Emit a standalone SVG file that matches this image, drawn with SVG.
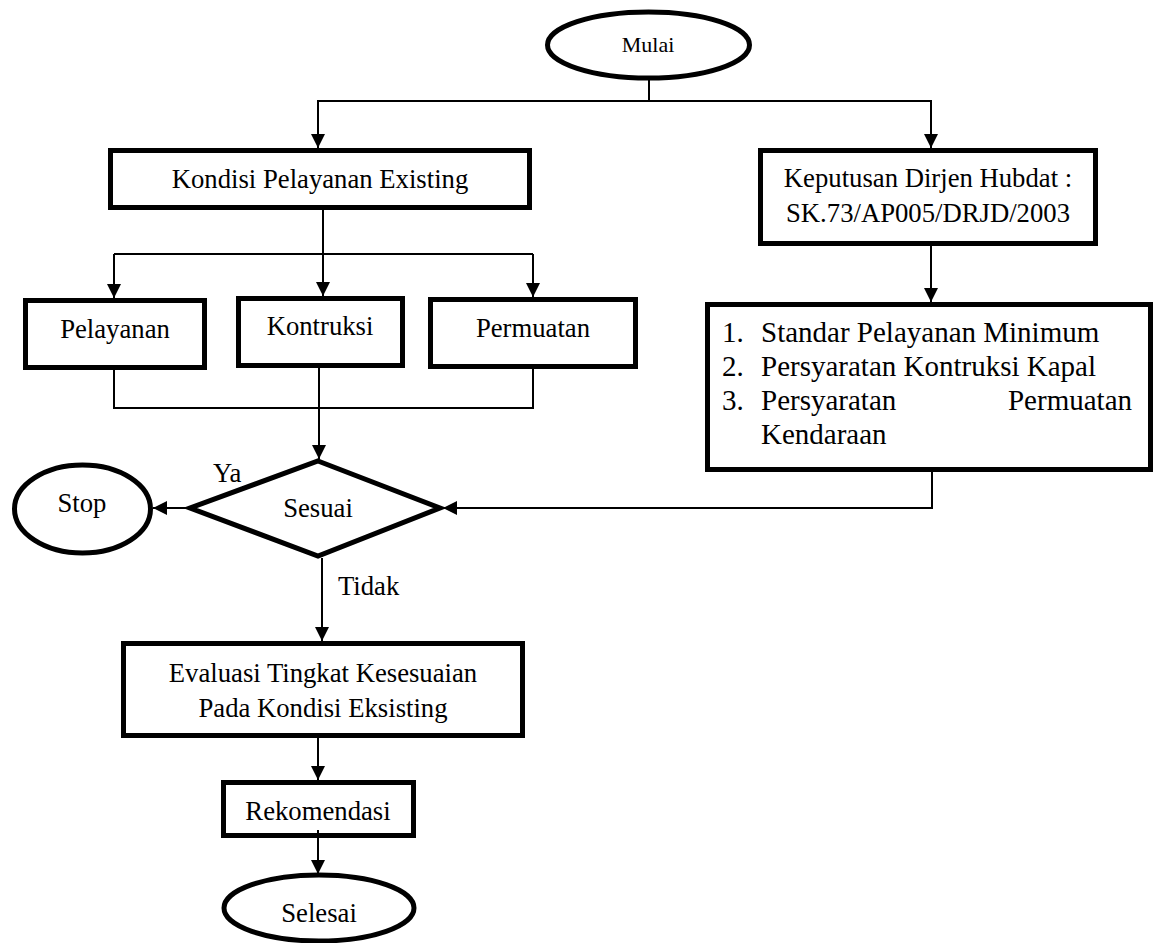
<svg xmlns="http://www.w3.org/2000/svg" width="1154" height="943" viewBox="0 0 1154 943">
<style>
.n{fill:#fff;stroke:#000;stroke-width:5}
.t{font-family:"Liberation Serif","Times New Roman",serif;font-size:26.7px;fill:#000}
.c{text-anchor:middle}
.big{font-size:29px}
.ln{fill:none;stroke:#000;stroke-width:2}
</style>
<defs>
<marker id="ar" markerUnits="userSpaceOnUse" markerWidth="14" markerHeight="14" refX="14" refY="7" orient="auto" viewBox="0 0 14 14">
<path d="M0,0 L14,7 L0,14 z" fill="#000"/>
</marker>
</defs>
<rect width="1154" height="943" fill="#fff"/>
<g id="mulai">
<ellipse class="n" cx="648.5" cy="45" rx="101" ry="33"/>
<text class="t c" x="648" y="52" style="font-size:22px">Mulai</text>
</g>
<g id="kondisi">
<rect class="n" x="110.5" y="150.5" width="419" height="57"/>
<text class="t c" x="320" y="188">Kondisi Pelayanan Existing</text>
</g>
<g id="pelayanan">
<rect class="n" x="25.5" y="300.5" width="179" height="67"/>
<text class="t c" x="115" y="338">Pelayanan</text>
</g>
<g id="kontruksi">
<rect class="n" x="238.5" y="298.5" width="164" height="67"/>
<text class="t c" x="320" y="335">Kontruksi</text>
</g>
<g id="permuatan">
<rect class="n" x="430.5" y="299.5" width="205" height="67"/>
<text class="t c" x="533" y="337">Permuatan</text>
</g>
<g id="keputusan">
<rect class="n" x="760.5" y="150.5" width="335" height="93"/>
<text class="t c" x="928" y="187">Keputusan Dirjen Hubdat :</text>
<text class="t c" x="928" y="222">SK.73/AP005/DRJD/2003</text>
</g>
<g id="standar">
<rect class="n" x="707.5" y="304.5" width="443" height="165"/>
<text class="t big" x="722" y="342">1.</text>
<text class="t big" x="761" y="342">Standar Pelayanan Minimum</text>
<text class="t big" x="722" y="376">2.</text>
<text class="t big" x="761" y="376">Persyaratan Kontruksi Kapal</text>
<text class="t big" x="722" y="410">3.</text>
<text class="t big" x="761" y="410">Persyaratan</text>
<text class="t big" x="1132" y="410" text-anchor="end">Permuatan</text>
<text class="t big" x="761" y="444">Kendaraan</text>
</g>
<g id="sesuai">
<polygon class="n" points="318,461 440,508 318,556 190,508"/>
<text class="t c" x="318" y="517">Sesuai</text>
</g>
<g id="stop">
<ellipse class="n" cx="82.5" cy="509" rx="68" ry="44"/>
<text class="t c" x="82" y="512">Stop</text>
</g>
<g id="evaluasi">
<rect class="n" x="123.5" y="643.5" width="399" height="92"/>
<text class="t c" x="323" y="682">Evaluasi Tingkat Kesesuaian</text>
<text class="t c" x="323" y="717">Pada Kondisi Eksisting</text>
</g>
<g id="rekomendasi">
<rect class="n" x="223.5" y="782.5" width="190" height="53"/>
<text class="t c" x="318" y="820">Rekomendasi</text>
</g>
<g id="selesai">
<ellipse class="n" cx="319" cy="908" rx="95" ry="33"/>
<text class="t c" x="319" y="922">Selesai</text>
</g>
<g id="labels">
<text class="t" x="213" y="482">Ya</text>
<text class="t" x="338" y="595">Tidak</text>
</g>
<g id="connectors">
<path class="ln" d="M649,79 V101"/>
<path class="ln" d="M649,101 H318 V148" marker-end="url(#ar)"/>
<path class="ln" d="M649,101 H931 V148" marker-end="url(#ar)"/>
<path class="ln" d="M323,210 V296" marker-end="url(#ar)"/>
<path class="ln" d="M114,254 H533"/>
<path class="ln" d="M114,254 V298" marker-end="url(#ar)"/>
<path class="ln" d="M533,254 V297" marker-end="url(#ar)"/>
<path class="ln" d="M114,370 V408 H533 V369"/>
<path class="ln" d="M319,368 V459" marker-end="url(#ar)"/>
<path class="ln" d="M190,508 H153" marker-end="url(#ar)"/>
<path class="ln" d="M932,472 V508 H443" marker-end="url(#ar)"/>
<path class="ln" d="M322,558 V641" marker-end="url(#ar)"/>
<path class="ln" d="M318,738 V780" marker-end="url(#ar)"/>
<path class="ln" d="M318,830 V874" marker-end="url(#ar)"/>
<path class="ln" d="M931,246 V302" marker-end="url(#ar)"/>
</g>
</svg>
